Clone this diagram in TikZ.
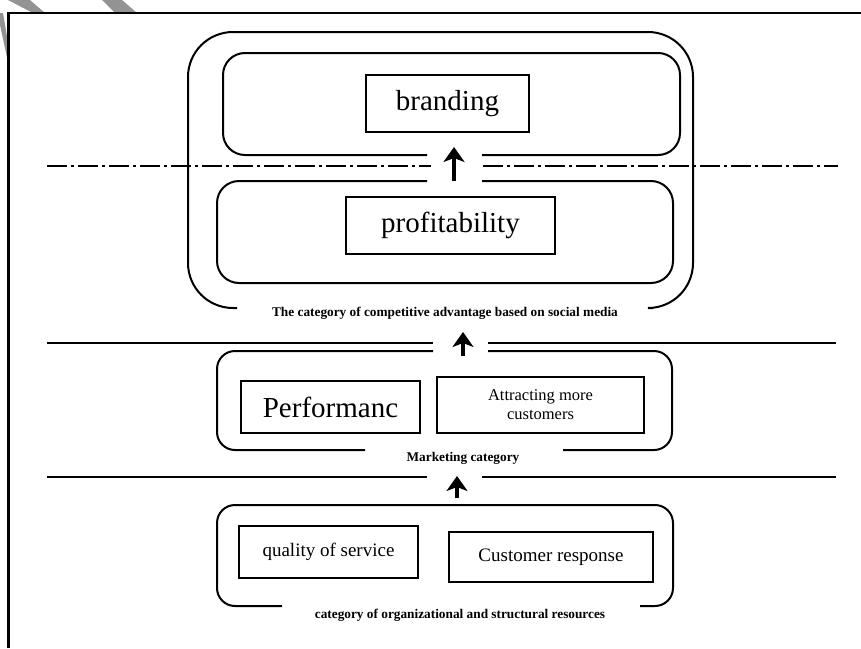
\documentclass[tikz,border=0pt]{standalone}
\usepackage{fontspec}
\setmainfont{Liberation Serif}
\usepackage{tikz}
\usetikzlibrary{arrows.meta}

\tikzset{
  catframe/.style={line width=2pt, rounded corners=#1},
  itembox/.style={draw, line width=2.4pt, inner sep=0pt, align=center},
  catlabel/.style={font=\fontsize{13.3}{15}\selectfont\bfseries, inner sep=0pt},
  uparrow/.style={line width=4pt, -{Stealth[length=15pt,width=21pt,inset=4pt]}},
  sepline/.style={line width=1.8pt},
}

\begin{document}
\begin{tikzpicture}[x=1pt, y=-1pt]
    \useasboundingbox (0,0) rectangle (861,648);

    % Vệt xám ở góc trên bên trái
    \fill[gray!85] (0,13) -- (3,13) -- (8,42) -- (8,62) -- (0,25) -- cycle;
    \fill[gray!85] (8,0) -- (30,0) -- (45,13) -- (33,13) -- cycle;
    \fill[gray!85] (102,0) -- (122,0) -- (137,13) -- (115,13) -- cycle;

    % Khung ngoài
    \draw[line width=2.5pt] (8.5,648) -- (8.5,13) -- (861,13);

    % Đường phân cách
    \draw[sepline, dash pattern=on 20pt off 4pt on 3pt off 4pt] (47,166) -- (431,166);
    \draw[sepline, dash pattern=on 20pt off 4pt on 3pt off 4pt] (483,166) -- (838,166);
    \draw[sepline] (47,343) -- (433,343);
    \draw[sepline] (488,343) -- (836,343);
    \draw[sepline] (47,477) -- (427,477);
    \draw[sepline] (482,477) -- (836,477);

    % Nhóm lợi thế cạnh tranh
    \draw[catframe=45pt] (237,308) -- (188,308) -- (188,32) -- (693,32) -- (693,308) -- (653,308);
    \draw[catframe=22pt] (427,155) -- (223,155) -- (223,53) -- (680,53) -- (680,155) -- (482,155);
    \draw[catframe=22pt] (427,181) -- (217,181) -- (217,283) -- (673,283) -- (673,181) -- (482,181);
    \node[itembox, minimum width=163pt, minimum height=57pt, font=\fontsize{29}{33}\selectfont]
        (brand) at (447.5,103.5) {branding};
    \node[itembox, minimum width=209pt, minimum height=57pt, font=\fontsize{29}{33}\selectfont]
        (profit) at (450.5,225.5) {profitability};
    \node[catlabel] (advlabel) at (445,313) {The category of competitive advantage based on social media};

    % Nhóm marketing
    \draw[catframe=18pt] (433,351) -- (217,351) -- (217,450) -- (365,450);
    \draw[catframe=18pt] (563,450) -- (672,450) -- (672,351) -- (488,351);
    \node[itembox, minimum width=179pt, minimum height=52pt, font=\fontsize{29}{33}\selectfont]
        (perf) at (330.5,407) {Performanc};
    \node[itembox, minimum width=207pt, minimum height=56pt, font=\fontsize{16.5}{19}\selectfont]
        (attract) at (540.5,405) {Attracting more\\customers};
    \node[catlabel] (mktlabel) at (463,458) {Marketing category};

    % Nhóm nguồn lực tổ chức
    \draw[catframe=18pt] (282,606) -- (217,606) -- (217,505) -- (673,505) -- (673,606) -- (640,606);
    \node[itembox, minimum width=179pt, minimum height=52pt, font=\fontsize{19}{22}\selectfont]
        (quality) at (328.5,552) {quality of service};
    \node[itembox, minimum width=204pt, minimum height=50pt, font=\fontsize{19}{22}\selectfont]
        (response) at (551,557) {Customer response};
    \node[catlabel] (reslabel) at (460,615) {category of organizational and structural resources};

    % Mũi tên đi lên
    \coordinate (profittop) at (454,181);
    \coordinate (brandbot) at (454,147);
    \coordinate (mkttop) at (463,356);
    \coordinate (advbot) at (463,332);
    \coordinate (restop) at (457,498);
    \coordinate (mktbot) at (457,476);
    \draw[uparrow] (profittop) -- (brandbot);
    \draw[uparrow] (mkttop) -- (advbot);
    \draw[uparrow] (restop) -- (mktbot);
\end{tikzpicture}
\end{document}
